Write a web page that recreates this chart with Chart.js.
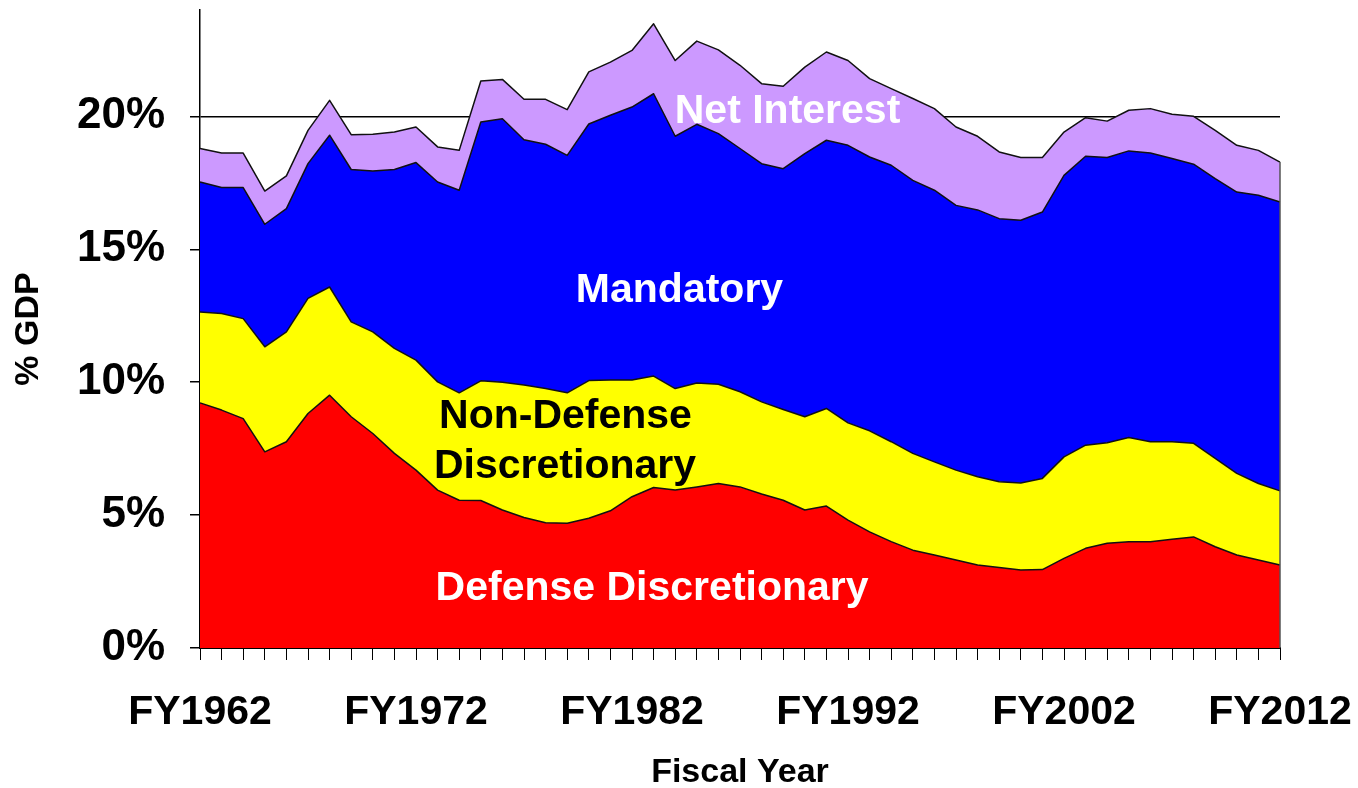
<!DOCTYPE html>
<html>
<head>
<meta charset="utf-8">
<script src="https://cdn.jsdelivr.net/npm/chart.js@4/dist/chart.umd.min.js"></script>
<style>
  html, body { margin: 0; padding: 0; background: #fff; }
  #wrap { width: 1358px; height: 788px; }
</style>
</head>
<body>
<div id="wrap"><canvas id="outlays"></canvas></div>
<script>
// --- DATA (% of GDP) ---
const years = [];
for (let y = 1962; y <= 2012; y++) years.push(y);

const defense = [9.22, 8.95, 8.63, 7.38, 7.76, 8.82, 9.51, 8.70, 8.07, 7.32,
  6.69, 5.94, 5.56, 5.55, 5.19, 4.91, 4.71, 4.69, 4.88, 5.16,
  5.69, 6.04, 5.94, 6.06, 6.19, 6.06, 5.79, 5.56, 5.19, 5.34,
  4.81, 4.37, 4.00, 3.68, 3.50, 3.31, 3.12, 3.03, 2.93, 2.95,
  3.37, 3.75, 3.94, 4.00, 4.00, 4.09, 4.18, 3.81, 3.50, 3.31, 3.12];

const nonDefense = [3.42, 3.63, 3.76, 3.95, 4.13, 4.33, 4.07, 3.57, 3.82, 3.95,
  4.14, 4.07, 4.04, 4.50, 4.81, 4.98, 5.05, 4.91, 5.18, 4.92,
  4.39, 4.19, 3.82, 3.91, 3.73, 3.58, 3.47, 3.41, 3.51, 3.67,
  3.66, 3.80, 3.76, 3.64, 3.50, 3.38, 3.32, 3.22, 3.28, 3.43,
  3.82, 3.88, 3.78, 3.92, 3.76, 3.67, 3.52, 3.32, 3.07, 2.88, 2.79];

const mandatory = [4.89, 4.74, 4.93, 4.61, 4.64, 5.07, 5.71, 5.73, 6.05, 6.73,
  7.43, 7.52, 7.62, 9.74, 9.91, 9.23, 9.19, 8.93, 9.65, 9.96,
  10.27, 10.62, 9.49, 9.73, 9.43, 9.15, 8.96, 9.06, 9.90, 10.09,
  10.44, 10.30, 10.40, 10.27, 10.22, 9.96, 10.04, 9.90, 9.88, 10.02,
  10.59, 10.87, 10.73, 10.78, 10.86, 10.65, 10.50, 10.53, 10.58, 10.84, 10.87];

const netInterest = [1.26, 1.30, 1.30, 1.25, 1.23, 1.25, 1.31, 1.31, 1.39, 1.41,
  1.34, 1.32, 1.50, 1.54, 1.48, 1.52, 1.69, 1.72, 1.96, 2.00,
  2.13, 2.63, 2.85, 3.13, 3.15, 3.13, 3.01, 3.10, 3.25, 3.32,
  3.19, 2.95, 2.88, 3.08, 3.07, 2.95, 2.77, 2.51, 2.36, 2.05,
  1.63, 1.45, 1.37, 1.53, 1.67, 1.67, 1.80, 1.81, 1.76, 1.69, 1.50];

const yTicks = [0, 5, 10, 15, 20];
const labeledYears = [1962, 1972, 1982, 1992, 2002, 2012];

// --- COLORS / FONTS ---
const defenseRed = '#FF0000';
const nonDefYellow = '#FFFF00';
const mandBlue = '#0000FF';
const interestLilac = '#CC99FF';
const FONT = '"Liberation Sans", Arial, sans-serif';

// in-chart text: [text, x index, y value, color]
const areaLabels = [
  ['Net Interest', 27.2, 20.32, '#fff'],
  ['Mandatory', 22.2, 13.58, '#fff'],
  ['Non-Defense', 16.92, 8.83, '#000'],
  ['Discretionary', 16.9, 6.95, '#000'],
  ['Defense Discretionary', 20.93, 2.37, '#fff']
];

const labelPlugin = {
  id: 'areaLabels',
  afterDatasetsDraw(chart) {
    const { ctx, scales: { x, y } } = chart;
    ctx.save();
    // close the right edge of the stack
    const top = chart.getDatasetMeta(3).data;
    const last = top[top.length - 1];
    ctx.strokeStyle = '#555';
    ctx.lineWidth = 1.5;
    ctx.beginPath();
    ctx.moveTo(last.x, last.y);
    ctx.lineTo(last.x, y.getPixelForValue(0));
    ctx.stroke();

    ctx.font = 'bold 41px ' + FONT;
    ctx.textAlign = 'center';
    ctx.textBaseline = 'alphabetic';
    areaLabels.forEach(([txt, xi, yv, col]) => {
      ctx.fillStyle = col;
      ctx.fillText(txt, x.getPixelForValue(xi), y.getPixelForValue(yv) + 14.7);
    });
    ctx.restore();
  }
};

function layer(label, data, color, fill) {
  return {
    label: label,
    data: data,
    backgroundColor: color,
    borderColor: '#111',
    borderWidth: 1.5,
    borderJoinStyle: 'round',
    pointRadius: 0,
    tension: 0,
    fill: fill
  };
}

new Chart(document.getElementById('outlays'), {
  type: 'line',
  data: {
    labels: years,
    datasets: [
      layer('Defense Discretionary', defense, defenseRed, 'origin'),
      layer('Non-Defense Discretionary', nonDefense, nonDefYellow, '-1'),
      layer('Mandatory', mandatory, mandBlue, '-1'),
      layer('Net Interest', netInterest, interestLilac, '-1')
    ]
  },
  options: {
    responsive: true,
    maintainAspectRatio: false,
    animation: false,
    layout: { padding: { top: 10, right: 78, bottom: 0, left: 0 } },
    plugins: { legend: { display: false }, tooltip: { enabled: false } },
    scales: {
      x: {
        offset: false,
        afterFit(scale) {
          scale.height = 140;
          scale.paddingLeft = 0;
          scale.paddingRight = 0;
        },
        grid: {
          drawOnChartArea: false,
          color: '#000',
          tickLength: 12,
          tickWidth: 1
        },
        border: { display: true, color: '#000', width: 2 },
        ticks: {
          autoSkip: false,
          maxRotation: 0,
          padding: 28,
          color: '#000',
          font: { family: FONT, size: 41, weight: 'bold' },
          callback(val) {
            const yr = years[val];
            return labeledYears.includes(yr) ? 'FY' + yr : '';
          }
        },
        title: {
          display: true,
          text: 'Fiscal Year',
          color: '#000',
          padding: { top: 0, bottom: -5 },
          font: { family: FONT, size: 34, weight: 'bold' }
        }
      },
      y: {
        stacked: true,
        min: 0,
        max: 24,
        afterFit(scale) {
          scale.width = 200;
          scale.paddingTop = 0;
          scale.paddingBottom = 0;
        },
        afterBuildTicks(scale) {
          scale.ticks = yTicks.map(v => ({ value: v }));
        },
        grid: {
          color: ctx => (ctx.tick && ctx.tick.value === 20) ? '#000' : 'rgba(0,0,0,0)',
          lineWidth: 1.5,
          tickColor: '#000',
          tickLength: 10,
          tickWidth: 1.5
        },
        border: { display: true, color: '#000', width: 1.5 },
        ticks: {
          padding: 25,
          color: '#000',
          font: { family: FONT, size: 44, weight: 'bold' },
          callback: v => v + '%'
        },
        title: {
          display: true,
          text: '% GDP',
          color: '#000',
          padding: { top: 8, bottom: 0 },
          font: { family: FONT, size: 34, weight: 'bold' }
        }
      }
    }
  },
  plugins: [labelPlugin]
});
</script>
</body>
</html>
